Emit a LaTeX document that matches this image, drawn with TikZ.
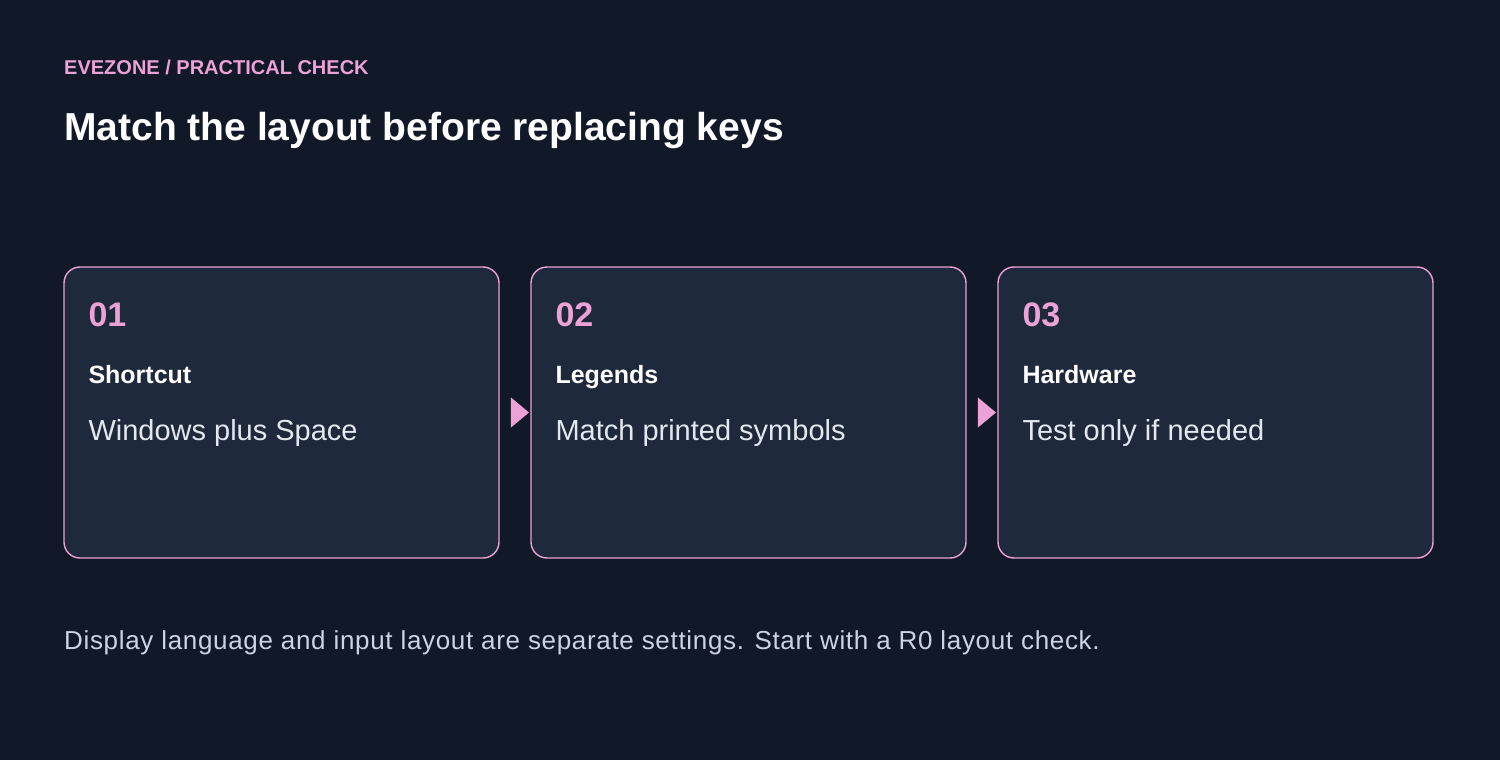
\documentclass[tikz,border=0pt]{standalone}
\usepackage{fontspec}
\setmainfont{Liberation Sans}
\usetikzlibrary{shapes.geometric}
\definecolor{bgdark}{HTML}{111827}
\definecolor{cardfill}{HTML}{1E293B}
\definecolor{pinkline}{HTML}{ECA2D6}
\definecolor{bodytext}{HTML}{E2E8F0}
\definecolor{foottext}{HTML}{CBD5E1}
\begin{document}
\begin{tikzpicture}[x=1pt,y=-1pt,
    card/.style={draw=pinkline,line width=1.4pt,fill=cardfill,rounded corners=16pt,minimum width=435pt,minimum height=291pt,inner sep=0pt},
    num/.style={anchor=base west,inner sep=0pt,text=pinkline,font=\fontsize{34}{40}\selectfont\bfseries},
    head/.style={anchor=base west,inner sep=0pt,text=white,font=\fontsize{25}{30}\selectfont\bfseries},
    body/.style={anchor=base west,inner sep=0pt,text=bodytext,font=\fontsize{29}{35}\selectfont},
    tri/.style={isosceles triangle,isosceles triangle stretches,fill=pinkline,minimum width=30pt,minimum height=18pt,inner sep=0pt}]
    \fill[bgdark] (0,0) rectangle (1500,760);
    \useasboundingbox (0,0) rectangle (1500,760);
    \node[anchor=base west,inner sep=0pt,text=pinkline,font=\fontsize{20}{24}\selectfont\bfseries] (kicker) at (64,74.5) {EVEZONE / PRACTICAL CHECK};
    \node[anchor=base west,inner sep=0pt,text=white,font=\fontsize{39}{47}\selectfont\bfseries] (title) at (64,140) {Match the layout before replacing keys};
    \node[card] (card1) at (281.5,412.5) {};
    \node[card] (card2) at (748.5,412.5) {};
    \node[card] (card3) at (1215.5,412.5) {};
    \node[num] (num1) at ([xshift=25pt,yshift=-60pt]card1.north west) {01};
    \node[head] (head1) at ([xshift=25pt,yshift=-117pt]card1.north west) {Shortcut};
    \node[body] (body1) at ([xshift=25pt,yshift=-174pt]card1.north west) {Windows plus Space};
    \node[num] (num2) at ([xshift=25pt,yshift=-60pt]card2.north west) {02};
    \node[head] (head2) at ([xshift=25pt,yshift=-117pt]card2.north west) {Legends};
    \node[body] (body2) at ([xshift=25pt,yshift=-174pt]card2.north west) {Match printed symbols};
    \node[num] (num3) at ([xshift=25pt,yshift=-60pt]card3.north west) {03};
    \node[head] (head3) at ([xshift=25pt,yshift=-117pt]card3.north west) {Hardware};
    \node[body] (body3) at ([xshift=25pt,yshift=-174pt]card3.north west) {Test only if needed};
    \path (card1.east) -- (card2.west) node[midway,tri,xshift=3pt] (arr12) {};
    \path (card2.east) -- (card3.west) node[midway,tri,xshift=3pt] (arr23) {};
    \node[anchor=base west,inner sep=0pt,text=foottext,font=\fontsize{26}{31}\selectfont\addfontfeature{LetterSpace=2.6}] (note) at (64,649) {Display language and input layout are separate settings. Start with a R0 layout check.};
\end{tikzpicture}
\end{document}
